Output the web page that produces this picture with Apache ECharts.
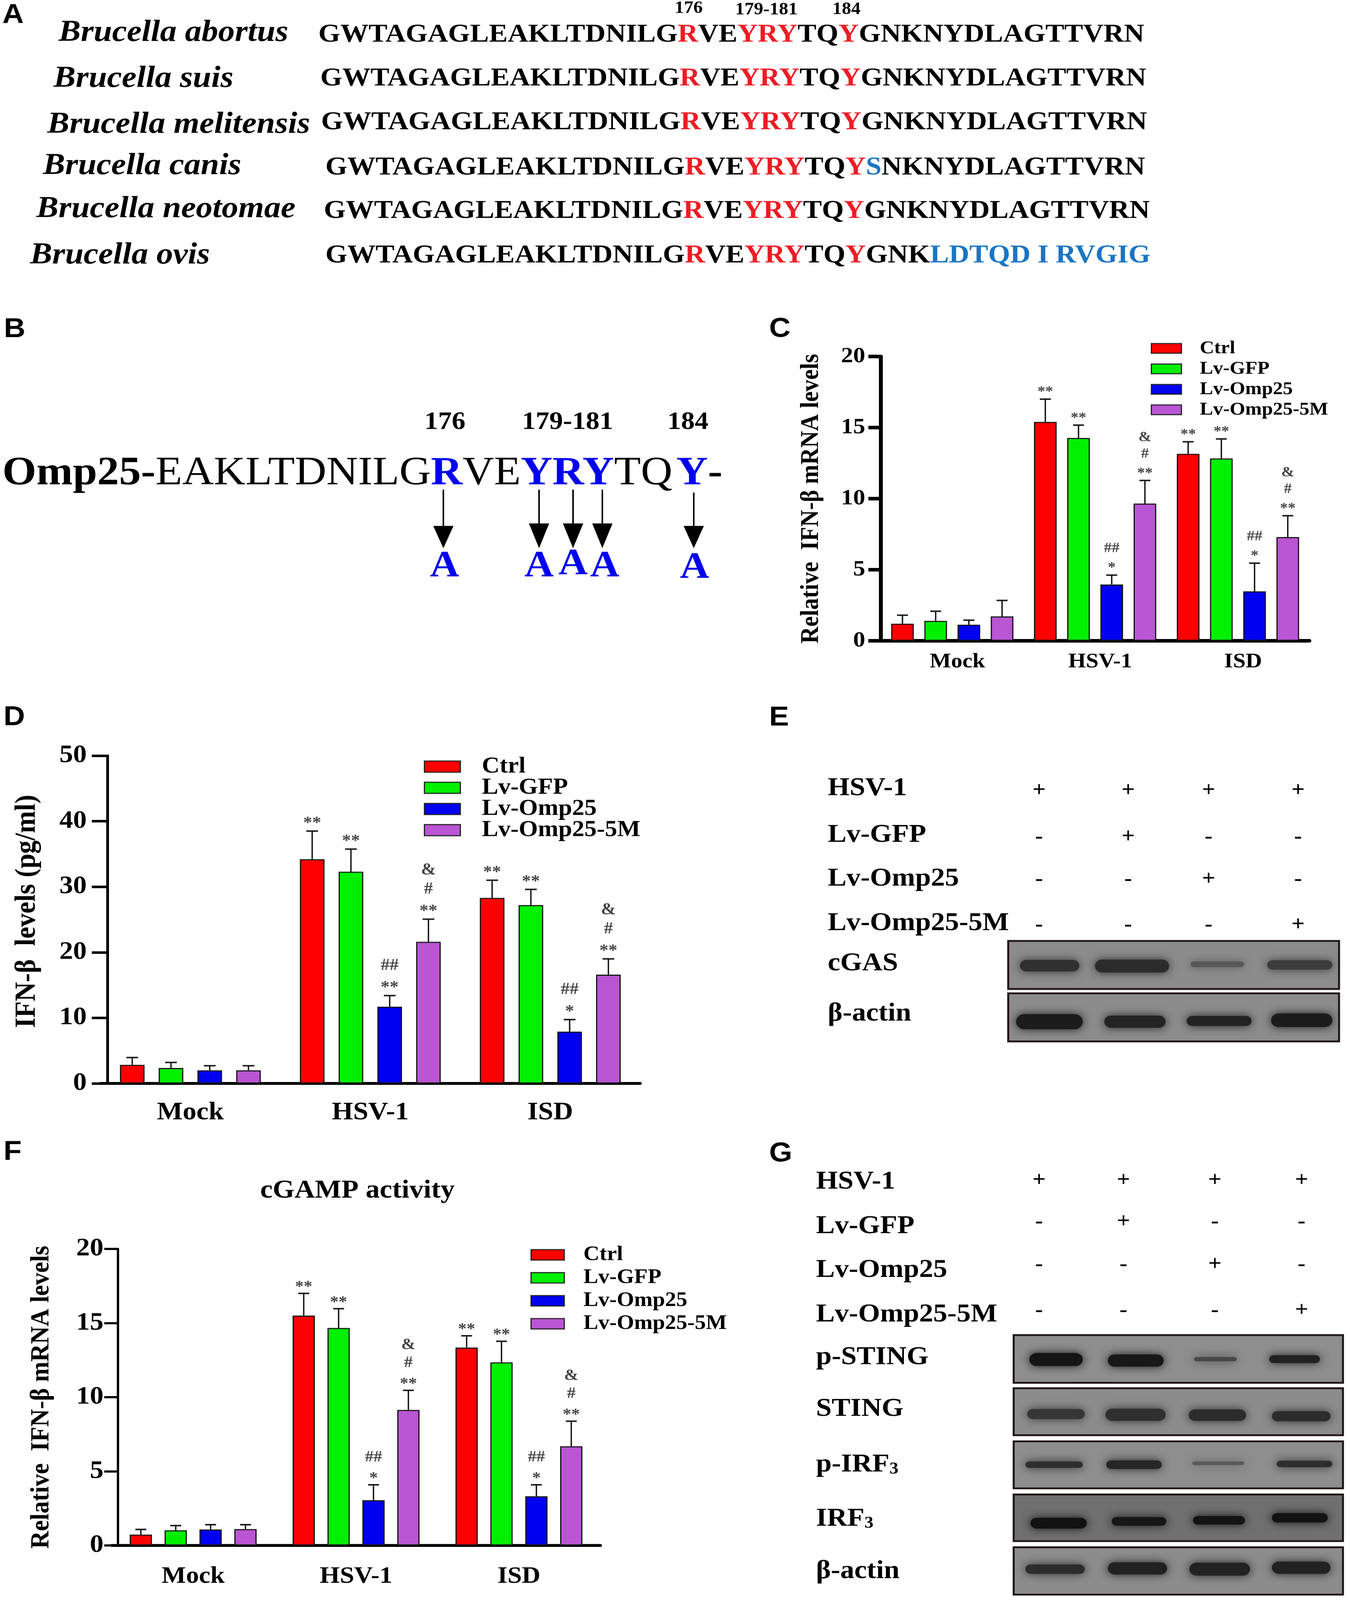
<!DOCTYPE html>
<html lang="en">
<head>
<meta charset="UTF-8">
<title>Omp25 figure</title>
<script src="https://cdn.jsdelivr.net/npm/echarts@6/dist/echarts.min.js"></script>
<style>
  html, body { margin: 0; padding: 0; background: #fff; overflow: hidden; }
  #main { width: 3456px; height: 4457px; transform-origin: 0 0; }
</style>
</head>
<body>
<div id="main"></div>
<script>
// values
var groups = ['Mock', 'HSV-1', 'ISD'];
var seriesNames = ['Ctrl', 'Lv-GFP', 'Lv-Omp25', 'Lv-Omp25-5M'];
var barColors = ['#ff0000', '#00f000', '#0000f0', '#ba55d3'];

// panel C
var cCtrl = [1.2, 15.4, 13.15];
var cGfp = [1.4, 14.27, 12.83];
var cOmp = [1.13, 3.96, 3.48];
var c5m = [1.72, 9.65, 7.3];
var cCtrlTop = [1.8, 17.0, 14.0];
var cGfpTop = [2.08, 15.17, 14.2];
var cOmpTop = [1.45, 4.62, 5.46];
var c5mTop = [2.84, 11.28, 8.8];
var cNotes = [
  [[], ['**'], ['**']],
  [[], ['**'], ['**']],
  [[], ['*', '##'], ['*', '##']],
  [[], ['**', '#', '&'], ['**', '#', '&']]
];

// panel D
var dCtrl = [2.83, 34.2, 28.3];
var dGfp = [2.36, 32.3, 27.2];
var dOmp = [2.0, 11.7, 7.9];
var d5m = [2.0, 21.6, 16.6];
var dCtrlTop = [3.95, 38.5, 31.0];
var dGfpTop = [3.2, 35.75, 29.6];
var dOmpTop = [2.7, 13.4, 9.74];
var d5mTop = [2.7, 25.06, 19.0];
var dNotes = [
  [[], ['**'], ['**']],
  [[], ['**'], ['**']],
  [[], ['**', '##'], ['*', '##']],
  [[], ['**', '#', '&'], ['**', '#', '&']]
];

// panel F
var fCtrl = [0.73, 15.5, 13.35];
var fGfp = [1.02, 14.67, 12.35];
var fOmp = [1.08, 3.05, 3.32];
var f5m = [1.1, 9.14, 6.69];
var fCtrlTop = [1.08, 17.0, 14.14];
var fGfpTop = [1.34, 15.97, 13.77];
var fOmpTop = [1.4, 4.09, 4.09];
var f5mTop = [1.4, 10.46, 8.38];
var fNotes = cNotes;

// panel A
var speciesNames = ['Brucella abortus', 'Brucella suis', 'Brucella melitensis', 'Brucella canis', 'Brucella neotomae', 'Brucella ovis'];
var seqNormal = 'GWTAGAGLEAKLTDNILGRVEYRYTQYGNKNYDLAGTTVRN';
var seqCanis = 'GWTAGAGLEAKLTDNILGRVEYRYTQYSNKNYDLAGTTVRN';
var seqOvis = 'GWTAGAGLEAKLTDNILGRVEYRYTQYGNKLDTQD I RVGIG';
var sequences = [seqNormal, seqNormal, seqNormal, seqCanis, seqNormal, seqOvis];
var redSites = [18, 21, 22, 23, 26];
var blueFrom = [[], [], [], [27, 28], [], [30, 99]];

// panels E, G
var lanes = ['HSV-1', 'Lv-GFP', 'Lv-Omp25', 'Lv-Omp25-5M'];
var signs = [
  ['+', '+', '+', '+'],
  ['-', '+', '-', '-'],
  ['-', '-', '+', '-'],
  ['-', '-', '-', '+']
];

var serif = '"Liberation Serif", "Times New Roman", serif';
var BLACK = '#000';
var RED = '#ee1c25';
var SEQBLUE = '#1a75c4';
var elements = [];

function addText(x, y, text, size, opts) {
  opts = opts || {};
  elements.push({
    type: 'text',
    z: 10,
    style: Object.assign({
      x: x, y: y, text: text, fontSize: size,
      fontFamily: serif, fontWeight: 'bold', fill: BLACK,
      align: 'left', verticalAlign: 'middle'
    }, opts)
  });
}

// panel letters
var panelLetters = [['A', 6, 43], ['B', 10, 918], ['C', 1969, 917], ['D', 9, 1999], ['E', 1969, 2000], ['F', 9, 3210], ['G', 1969, 3214]];
panelLetters.forEach(function (p) {
  addText(p[1], p[2], p[0], 76, { fontFamily: '"Liberation Sans", Arial, sans-serif' });
});

// panel A: alignment
var speciesPos = [[150, 92], [137, 220], [121, 348], [110, 463], [93, 583], [77, 712]];
var seqPos = [[815, 97], [820, 219], [822, 341], [833, 467], [829, 588], [833, 712]];
var seqRich = {
  k: { fontSize: 72.3, fontFamily: serif, fontWeight: 'bold', fill: BLACK },
  r: { fontSize: 72.3, fontFamily: serif, fontWeight: 'bold', fill: RED },
  b: { fontSize: 72.3, fontFamily: serif, fontWeight: 'bold', fill: SEQBLUE }
};
function seqMarkup(seq, blue) {
  var out = '', cur = '', run = '';
  for (var i = 0; i < seq.length; i++) {
    var t = redSites.indexOf(i) >= 0 ? 'r' : (blue.length && i >= blue[0] && i < blue[1] ? 'b' : 'k');
    if (t !== cur && run) { out += '{' + cur + '|' + run + '}'; run = ''; }
    cur = t;
    run += seq[i];
  }
  return out + '{' + cur + '|' + run + '}';
}
speciesNames.forEach(function (name, i) {
  addText(speciesPos[i][0], speciesPos[i][1], name, 85, { fontStyle: 'italic' });
  addText(seqPos[i][0], seqPos[i][1], seqMarkup(sequences[i], blueFrom[i]), 72.3, { rich: seqRich });
});
addText(1763, 24, '176', 48, { align: 'center' });
addText(1962, 28, '179-181', 48, { align: 'center' });
addText(2167, 27, '184', 48, { align: 'center' });

// panel B: mutated residues
var bRich = {
  h: { fontSize: 112, fontFamily: serif, fontWeight: 'bold', fill: BLACK },
  n: { fontSize: 112, fontFamily: serif, fontWeight: 'normal', fill: BLACK },
  q: { fontSize: 112, fontFamily: serif, fontWeight: 'normal', fill: BLACK, padding: [0, 10, 0, 0] },
  m: { fontSize: 112, fontFamily: serif, fontWeight: 'bold', fill: '#0000f0' }
};
addText(6, 1320, '{h|Omp25-}{n|EAKLTDNILG}{m|R}{n|VE}{m|YRY}{q|TQ}{m|Y}{h|-}', 112, { rich: bRich });
addText(1139, 1177, '176', 70, { align: 'center' });
addText(1453, 1177, '179-181', 70, { align: 'center' });
addText(1761, 1177, '184', 70, { align: 'center' });
var arrows = [[1135, 1364, 1465, 1579], [1380, 1364, 1458, 1579], [1467, 1364, 1458, 1573], [1542, 1364, 1458, 1579], [1776, 1372, 1465, 1583]];
var arrowLetters = [1138, 1380, 1467, 1548, 1778];
arrows.forEach(function (a, i) {
  elements.push({ type: 'line', z: 10, shape: { x1: a[0], y1: a[1], x2: a[0], y2: a[2] }, style: { stroke: BLACK, lineWidth: 4 } });
  elements.push({ type: 'polygon', z: 10, shape: { points: [[a[0] - 26, a[2]], [a[0] + 26, a[2]], [a[0], 1527]] }, style: { fill: BLACK } });
  addText(arrowLetters[i], a[3], 'A', 104, { align: 'center', fill: '#0000f0' });
});

// blots
function addBlot(x, y, w, h, bg, bands) {
  elements.push({ type: 'rect', z: 5, shape: { x: x, y: y, width: w, height: h }, style: { fill: bg, stroke: '#1c1212', lineWidth: 5 } });
  bands.forEach(function (b) {
    elements.push({
      type: 'rect', z: 6,
      shape: { x: b[0] + 8, y: b[3] - b[4] / 2, width: b[1] - b[0] - 16, height: b[4], r: b[4] / 2 },
      style: { fill: b[2], shadowColor: b[2], shadowBlur: 24 }
    });
  });
}
function addSigns(colX, rowY) {
  signs.forEach(function (row, r) {
    row.forEach(function (s, c) { addText(colX[c], rowY[r], s, 60, { align: 'center' }); });
  });
}
var subRich = {
  t: { fontSize: 72, fontFamily: serif, fontWeight: 'bold', fill: BLACK },
  s: { fontSize: 46, fontFamily: serif, fontWeight: 'bold', fill: BLACK, verticalAlign: 'bottom' }
};
function addLabels(x, rowY, labels, size) {
  labels.forEach(function (t, i) { addText(x, rowY[i], t, size, t.indexOf('{') >= 0 ? { rich: subRich } : {}); });
}

// panel E
addLabels(2119, [2196, 2326, 2448, 2572, 2684, 2824], lanes.concat(['cGAS', 'β-actin']), 72);
addSigns([2660, 2888, 3094, 3323], [2202, 2331, 2449, 2576]);
addBlot(2581, 2621, 847, 134, '#8c8c8c', [
  [2603, 2771, '#303030', 2690, 32], [2795, 3001, '#2c2c2c', 2691, 36],
  [3040, 3193, '#585858', 2686, 16], [3236, 3419, '#3c3c3c', 2688, 26]
]);
addBlot(2581, 2767, 847, 134, '#8c8c8c', [
  [2593, 2780, '#1c1c1c', 2846, 42], [2819, 2992, '#242424', 2846, 34],
  [3030, 3212, '#242424', 2844, 28], [3246, 3419, '#1c1c1c', 2842, 38]
]);

// panel G
addLabels(2089, [3292, 3416, 3538, 3662, 3781, 3925, 4080, 4231, 4377],
  lanes.concat(['p-STING', 'STING', '{t|p-IRF}{s|3}', '{t|IRF}{s|3}', 'β-actin']), 72);
addSigns([2660, 2876, 3110, 3332], [3288, 3403, 3522, 3650]);
addBlot(2595, 3719, 843, 133, '#8e8e8e', [
  [2627, 2780, '#151515', 3787, 36], [2828, 2987, '#181818', 3790, 34],
  [3049, 3174, '#484848', 3786, 12], [3241, 3387, '#222222', 3786, 22]
]);
addBlot(2595, 3867, 843, 131, '#8c8c8c', [
  [2622, 2785, '#363636', 3939, 28], [2822, 2992, '#303030', 3941, 34],
  [3035, 3198, '#2c2c2c', 3942, 32], [3248, 3414, '#2c2c2c', 3945, 28]
]);
addBlot(2595, 4015, 843, 131, '#8e8e8e', [
  [2617, 2780, '#2e2e2e', 4080, 18], [2824, 2982, '#262626', 4080, 24],
  [3044, 3193, '#5a5a5a', 4076, 10], [3260, 3419, '#2e2e2e', 4078, 18]
]);
addBlot(2595, 4163, 843, 130, '#707070', [
  [2630, 2790, '#121212', 4243, 30], [2838, 2994, '#161616', 4238, 24],
  [3046, 3195, '#141414', 4235, 24], [3248, 3407, '#121212', 4228, 26]
]);
addBlot(2595, 4310, 843, 132, '#8c8c8c', [
  [2617, 2785, '#2c2c2c', 4371, 26], [2828, 2996, '#222222', 4369, 34],
  [3037, 3208, '#222222', 4371, 36], [3248, 3414, '#222222', 4367, 34]
]);

// bar panels
addText(915, 3317, 'cGAMP activity', 72, { align: 'center' });

var panels = [
  {
    vals: [cCtrl, cGfp, cOmp, c5m], tops: [cCtrlTop, cGfpTop, cOmpTop, c5mTop], notes: cNotes,
    left: 2255, top: 993, width: 1097, height: 792, offset: 0, max: 20, interval: 5,
    barW: 58, pitch: 85, axisW: 10, baseW: 10, tickLen: 32, tickGap: 8, tickFont: 62, catFont: 58, catMargin: 30, catPad: [0, 0, 0, 26],
    title: 'Relative  IFN-β mRNA levels', titleFont: 65, titleGap: 145, titlePad: 0,
    noteFont: 40, first: 28, step: 46, capHalf: 14,
    legend: { left: 2946, top: 945, itemW: 77, itemH: 27, gap: 6, font: 51, pad: 42 }
  },
  {
    vals: [dCtrl, dGfp, dOmp, d5m], tops: [dCtrlTop, dGfpTop, dOmpTop, d5mTop], notes: dNotes,
    left: 257, top: 2105, width: 1382, height: 913, offset: -18, max: 50, interval: 10,
    barW: 63, pitch: 99.2, axisW: 7, baseW: 8, tickLen: 40, tickGap: 13, tickFont: 70, catFont: 70, catMargin: 47, catPad: 0,
    title: 'IFN-β  levels (pg/ml)', titleFont: 74, titleGap: 168, titlePad: [0, 0, 0, 46],
    noteFont: 46, first: 30, step: 53, capHalf: 15,
    legend: { left: 1085, top: 2104, itemW: 92, itemH: 31, gap: -4, font: 63, pad: 50 }
  },
  {
    vals: [fCtrl, fGfp, fOmp, f5m], tops: [fCtrlTop, fGfpTop, fOmpTop, f5mTop], notes: fNotes,
    left: 286, top: 3479, width: 1251, height: 826, offset: -16, max: 20, interval: 5,
    barW: 57, pitch: 89.3, axisW: 6, baseW: 8, tickLen: 35, tickGap: 2, tickFont: 70, catFont: 66, catMargin: 54, catPad: 0,
    title: 'Relative  IFN-β mRNA levels', titleFont: 68, titleGap: 162, titlePad: 0,
    noteFont: 44, first: 26, step: 50, capHalf: 14,
    legend: { left: 1358, top: 3467, itemW: 85, itemH: 29, gap: 7, font: 57, pad: 44 }
  }
];

var grids = [], xAxes = [], yAxes = [], legends = [], series = [];
panels.forEach(function (p, pi) {
  grids.push({ left: p.left, top: p.top, width: p.width, height: p.height, containLabel: false });
  xAxes.push({
    type: 'category', gridIndex: pi, data: groups,
    axisTick: { show: false },
    axisLine: { lineStyle: { color: BLACK, width: p.baseW } },
    axisLabel: { color: BLACK, fontFamily: serif, fontWeight: 'bold', fontSize: p.catFont, margin: p.catMargin, padding: p.catPad }
  });
  yAxes.push({
    type: 'value', gridIndex: pi, min: 0, max: p.max, interval: p.interval, offset: p.offset,
    splitLine: { show: false },
    axisLine: { show: true, lineStyle: { color: BLACK, width: p.axisW } },
    axisTick: { show: true, length: p.tickLen, lineStyle: { color: BLACK, width: p.axisW } },
    axisLabel: { color: BLACK, fontFamily: serif, fontWeight: 'bold', fontSize: p.tickFont, margin: p.tickLen + p.tickGap },
    name: p.title, nameLocation: 'middle', nameRotate: 90, nameGap: p.titleGap, nameMoveOverlap: false,
    nameTextStyle: { color: BLACK, fontFamily: serif, fontWeight: 'bold', fontSize: p.titleFont, padding: p.titlePad }
  });
  legends.push({
    data: seriesNames, orient: 'vertical', left: p.legend.left, top: p.legend.top, padding: 0,
    itemWidth: p.legend.itemW, itemHeight: p.legend.itemH, itemGap: p.legend.gap, icon: 'rect',
    selectedMode: false,
    itemStyle: { borderColor: '#222', borderWidth: 3 },
    textStyle: { color: BLACK, fontFamily: serif, fontWeight: 'bold', fontSize: p.legend.font, padding: [0, 0, 0, p.legend.pad] }
  });
  seriesNames.forEach(function (name, s) {
    series.push({
      type: 'bar', name: name, xAxisIndex: pi, yAxisIndex: pi, data: p.vals[s],
      barWidth: p.barW, barGap: ((p.pitch - p.barW) / p.barW * 100) + '%',
      itemStyle: { color: barColors[s], borderColor: '#111', borderWidth: 3 },
      z: 3
    });
  });
  seriesNames.forEach(function (name, s) {
    var rows = groups.map(function (g, i) { return [i, p.tops[s][i], p.vals[s][i]]; });
    series.push({
      type: 'custom', xAxisIndex: pi, yAxisIndex: pi, data: rows, z: 2, silent: true, clip: false,
      encode: { x: 0, y: 1 },
      renderItem: function (params, api) {
        var i = api.value(0);
        var top = api.coord([i, api.value(1)]);
        var base = api.coord([i, api.value(2)]);
        var x = top[0] + (s - 1.5) * p.pitch;
        var kids = [
          { type: 'line', shape: { x1: x, y1: top[1], x2: x, y2: base[1] }, style: { stroke: '#111', lineWidth: 3.5 } },
          { type: 'line', shape: { x1: x - p.capHalf, y1: top[1], x2: x + p.capHalf, y2: top[1] }, style: { stroke: '#111', lineWidth: 4 } }
        ];
        p.notes[s][i].forEach(function (t, k) {
          // asterisks sit high in their line box, nudge them down to the measured centre
          var nudge = t.charAt(0) === '*' ? p.noteFont * 0.2 : 0;
          kids.push({
            type: 'text',
            style: {
              x: x, y: top[1] - p.first - k * p.step + nudge, text: t,
              fontSize: p.noteFont, fontFamily: serif, fontWeight: 'bold', fill: '#444',
              align: 'center', verticalAlign: 'middle'
            }
          });
        });
        return { type: 'group', children: kids };
      }
    });
  });
});

// the browser window tops out below the figure height, so fit the figure to it
var main = document.getElementById('main');
var fit = Math.min(1, window.innerHeight / 4457);
main.style.transform = 'scale(1,' + fit + ')';

var chart = echarts.init(main, null, { width: 3456, height: 4457, devicePixelRatio: 1 });
chart.setOption({
  animation: false,
  backgroundColor: '#fff',
  grid: grids, xAxis: xAxes, yAxis: yAxes, legend: legends, series: series,
  graphic: { elements: elements }
});
</script>
</body>
</html>
